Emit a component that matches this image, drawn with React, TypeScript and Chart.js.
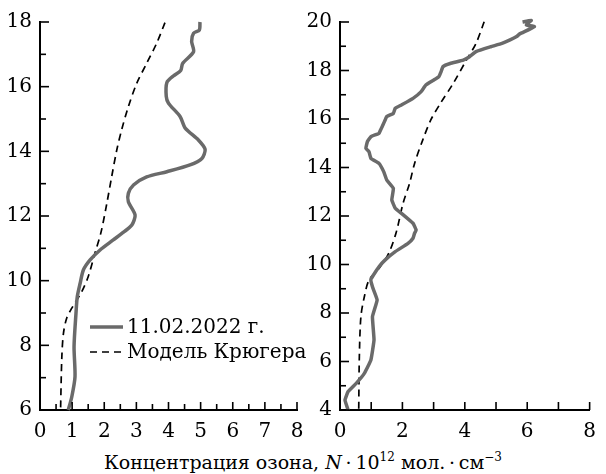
import React, { useEffect, useRef } from "react";
import { Chart, registerables } from "chart.js";

Chart.register(...registerables);

// ---- Left panel (11.02.2022) ----
const leftMeasuredAlt = [18.0, 17.75, 17.65, 17.4, 17.08, 16.72, 16.5, 16.33, 16.13, 15.7, 15.49, 15.08, 14.72, 14.35, 14.06, 13.78, 13.58, 13.37, 13.21, 12.96, 12.7, 12.44, 12.03, 11.72, 11.5, 11.26, 10.95, 10.64, 10.33, 9.92, 9.5, 8.99, 7.96, 7.03, 6.41, 6.0];
const leftMeasuredConc = [4.98, 4.96, 4.78, 4.72, 4.78, 4.44, 4.38, 4.15, 3.95, 3.93, 4.0, 4.36, 4.52, 4.93, 5.14, 5.04, 4.67, 3.95, 3.32, 2.91, 2.75, 2.75, 2.96, 2.86, 2.6, 2.28, 1.87, 1.56, 1.35, 1.25, 1.16, 1.12, 1.06, 1.09, 0.99, 0.88];
const leftModelAlt = [17.98, 17.34, 16.72, 16.1, 15.38, 14.66, 14.04, 13.21, 12.39, 11.5, 10.85, 10.12, 9.66, 9.15, 8.84, 8.37, 7.65, 6.0];
const leftModelConc = [3.89, 3.63, 3.32, 3.01, 2.75, 2.54, 2.39, 2.23, 2.08, 1.9, 1.71, 1.5, 1.3, 0.99, 0.83, 0.73, 0.68, 0.64];

// ---- Right panel ----
const rightMeasuredAlt = [20.0, 20.07, 19.88, 19.81, 19.51, 19.4, 19.26, 19.12, 18.98, 18.78, 18.57, 18.43, 18.29, 18.16, 17.95, 17.75, 17.61, 17.4, 17.13, 16.85, 16.58, 16.44, 16.23, 16.1, 15.82, 15.55, 15.41, 15.27, 15.07, 14.79, 14.65, 14.38, 14.17, 13.83, 13.48, 13.14, 12.66, 12.32, 12.11, 11.7, 11.42, 11.29, 11.08, 10.87, 10.53, 10.19, 9.91, 9.39, 9.08, 8.54, 7.85, 6.89, 6.06, 5.51, 5.1, 4.76, 4.41, 4.0];
const rightMeasuredConc = [5.85, 6.13, 5.97, 6.23, 5.76, 5.66, 5.45, 5.19, 4.83, 4.36, 4.15, 3.95, 3.53, 3.3, 3.24, 3.17, 3.01, 2.75, 2.6, 2.34, 1.97, 1.77, 1.71, 1.5, 1.4, 1.3, 1.25, 0.99, 0.88, 0.83, 0.93, 0.99, 1.25, 1.4, 1.5, 1.71, 1.66, 1.77, 1.97, 2.34, 2.44, 2.39, 2.34, 2.18, 1.77, 1.45, 1.25, 0.99, 1.04, 1.19, 1.04, 1.09, 0.99, 0.78, 0.52, 0.26, 0.16, 0.26];
const rightModelAlt = [20.01, 19.12, 18.43, 17.47, 16.65, 15.96, 15.13, 14.17, 13.35, 12.52, 11.32, 10.46, 9.84, 9.36, 8.67, 7.85, 6.2, 4.0];
const rightModelConc = [4.62, 4.36, 4.05, 3.63, 3.22, 2.91, 2.65, 2.39, 2.23, 2.02, 1.8, 1.56, 1.25, 0.93, 0.78, 0.67, 0.62, 0.6];

const seriesLabels = ["11.02.2022 г.", "Модель Крюгера"];
const leftXTickLabels = ["0", "1", "2", "3", "4", "5", "6", "7", "8"];
const rightXTickLabels = ["0", "2", "4", "6", "8"];

const FONT = "'DejaVu Serif', 'Liberation Serif', serif";
const GRAY = "#6a6a6a";

function pts(xs: number[], ys: number[]) {
  return xs.map((x, i) => ({ x, y: ys[i] }));
}

const inwardTicks = {
  id: "inwardTicks",
  afterDraw(chart: any, _a: any, opts: any) {
    const ctx = chart.ctx;
    const { left, bottom } = chart.chartArea;
    ctx.save();
    ctx.strokeStyle = "#000";
    ctx.lineWidth = 1.6;
    const xs = chart.scales.x;
    const ys = chart.scales.y;
    xs.ticks.forEach((t: any) => {
      const px = xs.getPixelForValue(t.value);
      const major = opts.xMajor(t.value);
      const len = major ? 8 : 6;
      ctx.beginPath();
      ctx.moveTo(px, bottom);
      ctx.lineTo(px, bottom - len);
      ctx.stroke();
    });
    ys.ticks.forEach((t: any) => {
      const py = ys.getPixelForValue(t.value);
      const major = opts.yMajor(t.value);
      const len = major ? 9 : 6;
      ctx.beginPath();
      ctx.moveTo(left, py);
      ctx.lineTo(left + len, py);
      ctx.stroke();
    });
    ctx.restore();
  },
};

const customLegend = {
  id: "customLegend",
  afterDraw(chart: any, _a: any, opts: any) {
    if (!opts.show) return;
    const ctx = chart.ctx;
    const ds = chart.data.datasets;
    ctx.save();
    ctx.font = `20px ${FONT}`;
    ctx.textBaseline = "middle";
    ctx.fillStyle = "#000";
    ds.forEach((d: any, i: number) => {
      const y = opts.y + i * 25;
      ctx.beginPath();
      ctx.strokeStyle = d.borderColor;
      ctx.lineWidth = d.borderWidth;
      ctx.setLineDash(d.borderDash || []);
      ctx.moveTo(opts.x, y);
      ctx.lineTo(opts.x + 33, y);
      ctx.stroke();
      ctx.setLineDash([]);
      ctx.fillText(d.label, opts.x + 37, y + 1);
    });
    ctx.restore();
  },
};

function makeConfig(
  measured: { x: number; y: number }[],
  model: { x: number; y: number }[],
  yMin: number,
  yMax: number,
  xStep: number,
  xLabels: string[],
  xMajor: (v: number) => boolean,
  legend: boolean,
  paddingRight: number,
  tension: number
): any {
  return {
    type: "scatter",
    data: {
      datasets: [
        {
          label: seriesLabels[0],
          data: measured,
          showLine: true,
          borderColor: GRAY,
          borderWidth: 3.5,
          pointRadius: 0,
          tension,
          clip: false,
          borderJoinStyle: "round",
        },
        {
          label: seriesLabels[1],
          data: model,
          showLine: true,
          borderColor: "#000",
          borderWidth: 1.7,
          borderDash: [7, 5],
          pointRadius: 0,
          tension: 0.3,
          clip: false,
        },
      ],
    },
    options: {
      animation: false,
      responsive: false,
      events: [],
      layout: { padding: { top: 22, right: paddingRight, left: 0, bottom: 0 } },
      plugins: {
        legend: { display: false },
        tooltip: { enabled: false },
        inwardTicks: { xMajor, yMajor: (v: number) => Math.round(v) % 2 === 0 },
        customLegend: { show: legend, x: 90, y: 327 },
      },
      scales: {
        x: {
          type: "linear",
          min: 0,
          max: 8,
          grid: { display: false, drawTicks: false },
          border: { display: true, color: "#000", width: 2 },
          afterFit: (s: any) => {
            s.height = 35;
          },
          ticks: {
            stepSize: xStep,
            autoSkip: false,
            maxRotation: 0,
            padding: 10,
            color: "#000",
            font: { family: FONT, size: 20 },
            callback: (v: number) => {
              const s = String(v);
              return xMajor(v) && xLabels.includes(s) ? s : "";
            },
          },
        },
        y: {
          type: "linear",
          min: yMin,
          max: yMax,
          grid: { display: false, drawTicks: false },
          border: { display: true, color: "#000", width: 2 },
          afterFit: (s: any) => {
            s.width = 40;
          },
          ticks: {
            stepSize: 1,
            autoSkip: false,
            padding: 8,
            color: "#000",
            font: { family: FONT, size: 20 },
            callback: (v: number) => (Math.round(v) % 2 === 0 ? String(v) : ""),
          },
        },
      },
    },
    plugins: [inwardTicks, customLegend],
  };
}

export default function App() {
  const leftRef = useRef<HTMLCanvasElement>(null);
  const rightRef = useRef<HTMLCanvasElement>(null);

  useEffect(() => {
    const c1 = new Chart(
      leftRef.current!,
      makeConfig(
        pts(leftMeasuredConc, leftMeasuredAlt),
        pts(leftModelConc, leftModelAlt),
        6,
        18,
        0.5,
        leftXTickLabels,
        (v) => Math.abs(v - Math.round(v)) < 1e-6,
        true,
        320 - 297,
        0.25
      )
    );
    const c2 = new Chart(
      rightRef.current!,
      makeConfig(
        pts(rightMeasuredConc, rightMeasuredAlt),
        pts(rightModelConc, rightModelAlt),
        4,
        20,
        1,
        rightXTickLabels,
        () => true,
        false,
        606 - 597,
        0.1
      )
    );
    return () => {
      c1.destroy();
      c2.destroy();
    };
  }, []);

  return (
    <div style={{ position: "fixed", left: 0, top: 0, width: 606, height: 474, background: "#fff", overflow: "hidden" }}>
      <canvas ref={leftRef} width={320} height={445} style={{ position: "absolute", left: 0, top: 0 }} />
      <canvas ref={rightRef} width={306} height={445} style={{ position: "absolute", left: 300, top: 0 }} />
      <div
        style={{
          position: "absolute",
          left: 0,
          top: 445,
          width: 606,
          textAlign: "center",
          fontFamily: FONT,
          fontSize: 19,
          lineHeight: "24px",
          color: "#000",
          whiteSpace: "nowrap",
        }}
      >
        Концентрация озона, <i>N</i>&thinsp;·&thinsp;10<sup style={{ fontSize: 12, verticalAlign: "8px" }}>12</sup> мол.&thinsp;·&thinsp;см<sup style={{ fontSize: 12, verticalAlign: "8px" }}>−3</sup>
      </div>
    </div>
  );
}
